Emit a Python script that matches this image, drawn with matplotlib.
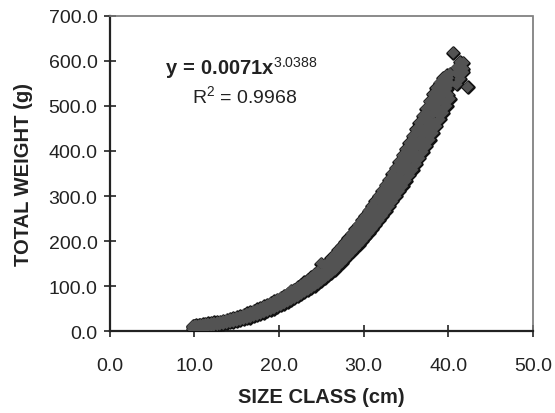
import matplotlib
matplotlib.use("Agg")
import matplotlib.pyplot as plt

plt.rcParams['font.family'] = ['Liberation Sans', 'DejaVu Sans']
plt.rcParams['mathtext.fontset'] = 'custom'
plt.rcParams['mathtext.rm'] = 'Liberation Sans'
plt.rcParams['mathtext.bf'] = 'Liberation Sans:bold'
plt.rcParams['mathtext.it'] = 'Liberation Sans:italic'

# Size class (cm) and total weight (g)
size_cm = [9.8, 10.0, 10.2, 10.5, 10.7, 11.0, 11.3, 11.6, 12.0, 12.3, 12.7, 13.0,
           13.4, 13.8, 14.2, 14.6, 15.0, 15.4, 15.8, 16.2, 16.6, 17.0, 17.4, 17.8,
           18.2, 18.6, 19.0, 19.4, 19.8, 20.2, 20.6, 21.0, 21.4, 21.8, 22.2, 22.6,
           23.0, 23.4, 23.8, 24.2, 24.6, 25.0, 25.4, 25.8, 26.2, 26.6, 27.0, 27.4,
           27.8, 28.2, 28.6, 29.0, 29.4, 29.8, 30.2, 30.6, 31.0, 31.4, 31.8, 32.2,
           32.6, 33.0, 33.4, 33.8, 34.2, 34.6, 35.0, 35.4, 35.8, 36.2, 36.6, 37.0,
           37.4, 37.8, 38.2, 38.6, 39.0, 39.4, 39.8, 40.2, 41.0, 41.4, 41.8]
weight_low = [4, 5, 6, 7, 7, 8, 9, 10, 11, 12, 13, 14,
              15, 17, 19, 20, 22, 24, 26, 28, 30, 33, 35, 38,
              41, 44, 47, 50, 54, 57, 61, 65, 69, 73, 77, 82,
              87, 91, 96, 101, 106, 112, 118, 124, 130, 136, 145, 152,
              160, 168, 176, 184, 192, 200, 209, 218, 227, 236, 246, 256,
              266, 277, 288, 299, 311, 322, 334, 346, 358, 371, 384, 398,
              411, 425, 440, 455, 470, 485, 500, 516, 548, 560, 575]
weight_mid = [8, 8, 9, 10, 11, 12, 12, 14, 15, 15, 17, 18,
              19, 21, 23, 25, 26, 29, 31, 33, 36, 39, 42, 44,
              48, 51, 55, 58, 62, 65, 70, 74, 79, 83, 87, 92,
              97, 103, 107, 113, 120, 126, 132, 139, 146, 152, 162, 170,
              178, 186, 196, 205, 214, 223, 232, 242, 252, 262, 273, 284,
              295, 306, 318, 330, 343, 356, 369, 382, 395, 409, 423, 437,
              452, 467, 483, 497, 511, 525, 538, 550, 573, 582, 583]
weight_high = [11, 12, 13, 13, 14, 15, 16, 17, 18, 19, 20, 21,
               23, 25, 27, 29, 31, 33, 36, 39, 42, 45, 48, 51,
               55, 58, 62, 66, 70, 74, 78, 83, 90, 92, 97, 102,
               108, 113, 119, 126, 132, 150, 147, 152, 162, 170, 180, 188,
               197, 206, 216, 226, 236, 246, 256, 267, 278, 289, 300, 312,
               324, 336, 350, 362, 376, 390, 404, 418, 433, 448, 463, 478,
               494, 510, 526, 540, 552, 562, 568, 572, 585, 598, 596]

# extra readings in the dense upper part of the band
size_upper = [30.0, 30.4, 30.8, 31.2, 31.6, 32.0, 32.4, 32.8, 33.2, 33.6, 34.0, 34.4,
              34.8, 35.2, 35.6, 36.0, 36.4, 36.8, 37.2, 37.6, 38.0, 38.4, 38.8, 39.2,
              39.6, 40.0]
weight_upper_a = [206, 218, 224, 236, 245, 258, 266, 280, 288, 302, 312, 330,
                  336, 353, 362, 380, 390, 410, 420, 436, 452, 462, 482, 490,
                  508, 525]
weight_upper_b = [250, 256, 270, 278, 292, 300, 314, 320, 336, 346, 362, 370,
                  388, 396, 414, 424, 442, 452, 470, 482, 500, 512, 528, 540,
                  552, 562]
extra_size = [40.6, 42.3]
extra_weight = [618, 542]

x_ticks = [0, 10, 20, 30, 40, 50]
y_ticks = [0, 100, 200, 300, 400, 500, 600, 700]

fig = plt.figure(figsize=(5.55, 4.14), dpi=100)
ax = fig.add_axes([0.198, 0.198, 0.762, 0.761])

all_x = size_cm * 3 + size_upper * 2 + extra_size
all_y = (weight_low + weight_mid + weight_high + weight_upper_a
         + weight_upper_b + extra_weight)
# outline pass, then fill pass so only the outer edge of the band is dark
ax.scatter(all_x, all_y, marker='D', s=36, facecolor='#111111',
           edgecolor='#111111', linewidths=2.0, zorder=3)
ax.scatter(all_x, all_y, marker='D', s=36, facecolor='#535353',
           edgecolor='none', zorder=4)

ax.set_xlim(0, 50)
ax.set_ylim(0, 700)
ax.set_xticks(x_ticks)
ax.set_xticklabels([f"{v:.1f}" for v in x_ticks])
ax.set_yticks(y_ticks)
ax.set_yticklabels([f"{v:.1f}" for v in y_ticks])
ax.tick_params(direction='inout', length=8, width=1.2, labelsize=14,
               colors='#222222', pad=5)
ax.tick_params(axis='x', pad=15)

for s in ['left', 'bottom']:
    ax.spines[s].set_linewidth(1.6)
    ax.spines[s].set_color('#222222')
for s in ['top', 'right']:
    ax.spines[s].set_linewidth(1.2)
    ax.spines[s].set_color('#777777')
    ax.spines[s].set_linestyle((0, (1, 1)))

ax.set_xlabel("SIZE CLASS (cm)", fontsize=14.5, fontweight='bold',
              color='#222222', labelpad=9)
ax.set_ylabel("TOTAL WEIGHT (g)", fontsize=14.5, fontweight='bold',
              color='#222222', labelpad=11)

ax.text(15.6, 587, r"$\mathbf{y\,=\,0.0071x}^{3.0388}$", fontsize=14.5,
        ha='center', va='center', color='#222222')
ax.text(15.9, 524, r"R$^2$ = 0.9968", fontsize=14, ha='center', va='center',
        color='#222222')

fig.savefig("out.png", dpi=100)
